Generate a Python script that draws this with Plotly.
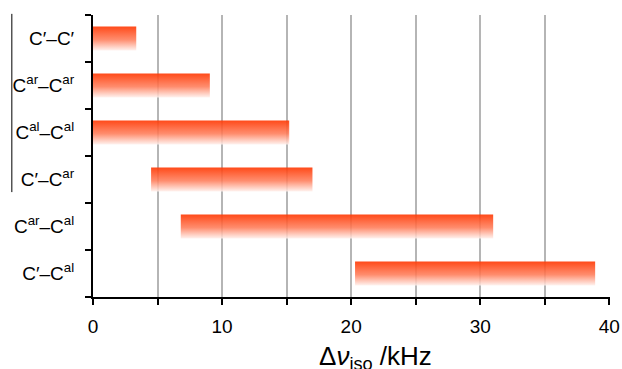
import plotly.graph_objects as go

categories = ["C′–C′", "C<sup>ar</sup>–C<sup>ar</sup>", "C<sup>al</sup>–C<sup>al</sup>",
              "C′–C<sup>ar</sup>", "C<sup>ar</sup>–C<sup>al</sup>", "C′–C<sup>al</sup>"]
range_start = [0.0, 0.0, 0.0, 4.5, 6.8, 20.3]
range_end = [3.35, 9.05, 15.2, 17.0, 31.0, 38.9]
x_tick_values = [0, 5, 10, 15, 20, 25, 30, 35, 40]
x_tick_labels = ["0", "", "10", "", "20", "", "30", "", "40"]

n = len(categories)
ypos = [n - 1 - i for i in range(n)]
half = 0.255

fig = go.Figure()
for cat, s, e, y in zip(categories, range_start, range_end, ypos):
    fig.add_trace(go.Scatter(
        x=[s, e, e, s, s],
        y=[y - half, y - half, y + half, y + half, y - half],
        mode="lines", line=dict(width=0, color="rgba(0,0,0,0)"),
        fill="toself",
        fillgradient=dict(
            type="vertical",
            colorscale=[[0, "rgba(255,240,236,0.85)"], [0.45, "rgba(255,125,90,0.88)"],
                        [1, "rgba(255,58,5,0.92)"]],
        ),
        hoverinfo="skip", showlegend=False, name=cat,
    ))

font_family = "Liberation Sans, Arial, sans-serif"
fig.update_layout(
    width=622, height=369,
    margin=dict(l=93, r=12, t=15, b=72),
    paper_bgcolor="white", plot_bgcolor="white",
    font=dict(family=font_family, color="black"),
    xaxis=dict(
        range=[0, 40.05], tickmode="array", tickvals=x_tick_values, ticktext=x_tick_labels,
        showgrid=True, gridcolor="#b5b5b5", gridwidth=2, zeroline=False,
        showline=True, linecolor="black", linewidth=2, automargin=False,
        ticks="outside", ticklen=6, tickwidth=2, tickcolor="black",
        ticklabelstandoff=5,
        tickfont=dict(size=19, family=font_family),
    ),
    yaxis=dict(
        range=[-0.5, 5.5], tickmode="array", tickvals=ypos, ticktext=categories,
        showgrid=False, zeroline=False, automargin=False,
        showline=True, linecolor="black", linewidth=2,
        ticks="", ticklabelstandoff=13,
        tickfont=dict(size=19, family=font_family),
        minor=dict(ticks="outside", tick0=-0.5, dtick=1, ticklen=6, tickwidth=2,
                   tickcolor="black", showgrid=False),
    ),
    annotations=[dict(
        text="Δ<i>ν</i><sub>iso</sub> /kHz", xref="paper", yref="paper",
        x=0.547, y=-0.148, xanchor="center", yanchor="top", showarrow=False,
        font=dict(size=26, family=font_family, color="black"),
    )],
    shapes=[dict(type="line", xref="paper", yref="paper", x0=-0.157, x1=-0.157,
                 y0=1.004, y1=0.372, line=dict(color="black", width=1))],
)

fig.write_html("out.html")
